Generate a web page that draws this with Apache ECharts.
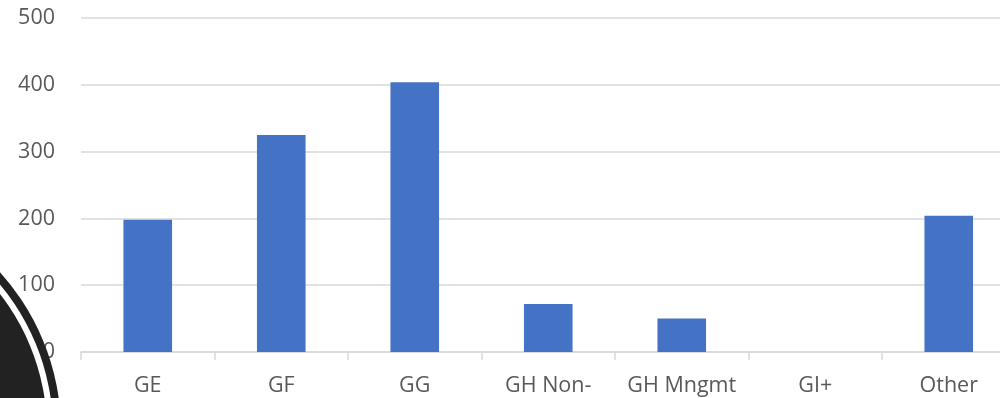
<!DOCTYPE html>
<html>
<head>
<meta charset="utf-8">
<script src="https://cdn.jsdelivr.net/npm/echarts@6/dist/echarts.min.js"></script>
<style>
  html, body { margin: 0; padding: 0; background: #ffffff; overflow: hidden; width: 1000px; height: 398px; }
  /* the plot area runs a little past the right edge of the window */
  #chart { width: 1016px; height: 398px; }
</style>
</head>
<body>
<div id="chart"></div>
<script>
// Counts per grade group
const categories = ['GE', 'GF', 'GG', 'GH Non-', 'GH Mngmt', 'GI+', 'Other'];
const counts = [198, 325, 404, 72, 50, 0, 204];
const yTicks = [0, 100, 200, 300, 400, 500];

const textColor = '#595959';
const lineColor = '#d9d9d9';
const fontFamily = '"Open Sans", "Noto Sans", sans-serif';

const chart = echarts.init(document.getElementById('chart'), null, { renderer: 'canvas' });

chart.setOption({
  animation: false,
  backgroundColor: '#ffffff',
  grid: { left: 81, top: 18, bottom: 46, right: 0.5, containLabel: false },
  xAxis: {
    type: 'category',
    data: categories,
    boundaryGap: true,
    axisLine: { show: true, lineStyle: { color: lineColor, width: 1.5 } },
    axisTick: { show: true, interval: 0, length: 8, lineStyle: { color: lineColor, width: 1.5 } },
    axisLabel: { interval: 0, color: textColor, fontSize: 21.5, fontFamily: fontFamily, margin: 23 },
    splitLine: { show: false }
  },
  yAxis: {
    type: 'value',
    min: yTicks[0],
    max: yTicks[yTicks.length - 1],
    interval: yTicks[1] - yTicks[0],
    axisLine: { show: false },
    axisTick: { show: false },
    axisLabel: { color: textColor, fontSize: 21.5, fontFamily: fontFamily, margin: 26 },
    splitLine: { show: true, lineStyle: { color: lineColor, width: 1.5 } }
  },
  series: [{
    type: 'bar',
    data: counts,
    barWidth: '36.4%',
    itemStyle: { color: '#4472c4' }
  }],
  // dark badge ring in the lower-left corner
  graphic: [
    { type: 'circle', z: 100, shape: { cx: -176, cy: 431, r: 237 }, style: { fill: '#222222' } },
    { type: 'circle', z: 101, shape: { cx: -176, cy: 431, r: 229 }, style: { fill: '#ffffff' } },
    { type: 'circle', z: 102, shape: { cx: -176, cy: 431, r: 223 }, style: { fill: '#222222' } }
  ]
});
</script>
</body>
</html>
